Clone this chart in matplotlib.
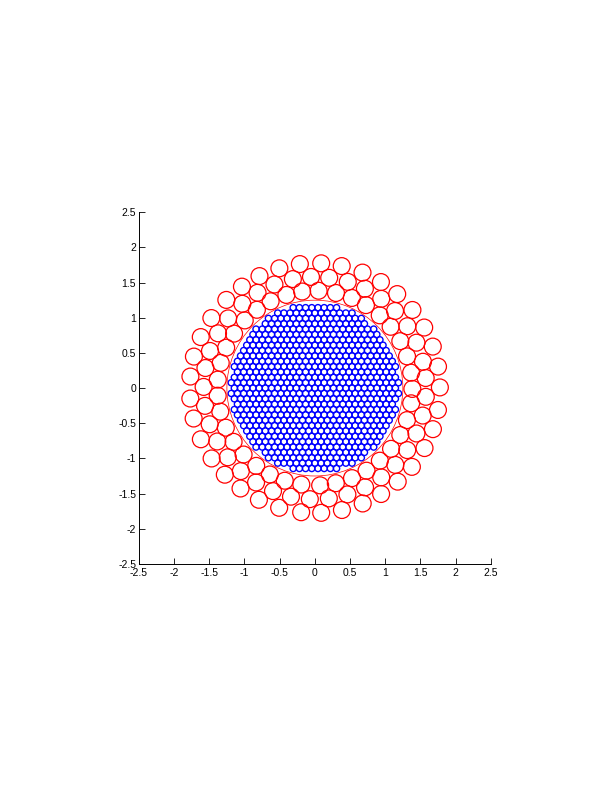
import numpy as np
import matplotlib
matplotlib.use('Agg')
import matplotlib.pyplot as plt
from matplotlib.patches import Circle
from matplotlib.collections import PatchCollection

plt.rcParams['font.family'] = ['Liberation Sans', 'DejaVu Sans']
plt.rcParams['axes.unicode_minus'] = False

# small blue discs: hexagonal lattice inside the boundary circle
blue_spacing = 0.088
blue_r = 0.044
boundary_r = 1.25

# big red discs: three rings (radius of ring, angles in degrees)
red_r = 0.12
ring_inner_r = 1.385
ring_mid_r = 1.581
ring_outer_r = 1.776
ring_inner_deg = [9.1, 19, 28.8, 39, 48.3, 58.4, 67.7, 77.5, 87.8, 97.5, 107, 117, 126.5,
                  136, 146, 155.5, 165, 175, 184.5, 194, 204, 213.5, 223, 233, 242.5, 252,
                  262, 273.1, 282.4, 292.4, 302, 311.8, 321.4, 331.2, 340.8, 351, 359.5]
ring_mid_deg = [5.2, 13.7, 24.1, 33.8, 43.9, 53.4, 63.3, 72.8, 82.6, 92, 101.4, 111.3, 121,
                130.7, 141.2, 150.5, 160.5, 169.6, 179.4, 189.2, 199, 208.7, 218.5, 228.3,
                238.1, 247.9, 257.6, 267.4, 277.2, 287, 296.8, 306.6, 316.3, 326.1, 335.9,
                345.7, 355.5]
ring_outer_deg = [0.3, 9.9, 19.4, 29, 38.7, 48.8, 58.1, 67.6, 77.6, 87.1, 96.9, 106.5, 116.3,
                  125.7, 135.1, 145.9, 155.9, 165.4, 174.7, 184.8, 194.1, 204.2, 214.3, 223.9,
                  233.5, 243.4, 253.4, 263.7, 272.9, 282.5, 292.5, 302, 311.5, 320.9, 331.3,
                  340.8, 349.9]

ticks = [-2.5, -2, -1.5, -1, -0.5, 0, 0.5, 1, 1.5, 2, 2.5]
tick_labels = ['-2.5', '-2', '-1.5', '-1', '-0.5', '0', '0.5', '1', '1.5', '2', '2.5']

fig = plt.figure(figsize=(6.12, 7.92), dpi=100)
ax = fig.add_axes([0.227, 0.288, 0.575, 0.444])

# blue lattice
blue = []
dy = blue_spacing * np.sqrt(3) / 2
nrow = int(boundary_r / dy) + 1
for j in range(-nrow, nrow + 1):
    y = j * dy
    off = 0.5 * blue_spacing if j % 2 else 0.0
    ncol = int(boundary_r / blue_spacing) + 2
    for i in range(-ncol, ncol + 1):
        x = i * blue_spacing + off
        if np.hypot(x, y) <= boundary_r - blue_r - 0.005:
            blue.append(Circle((x, y), blue_r))
ax.add_collection(PatchCollection(blue, facecolor='none', edgecolor='#0000ff', linewidth=1.0))

red = []
for rr, angs in [(ring_inner_r, ring_inner_deg), (ring_mid_r, ring_mid_deg), (ring_outer_r, ring_outer_deg)]:
    for a in angs:
        t = np.radians(a)
        red.append(Circle((rr * np.cos(t), rr * np.sin(t)), red_r))
ax.add_collection(PatchCollection(red, facecolor='none', edgecolor='#ff0000', linewidth=0.9))

ax.add_patch(Circle((0, 0), boundary_r, facecolor='none', edgecolor='#ff0000', linewidth=0.5))

ax.set_xlim(-2.5, 2.5)
ax.set_ylim(-2.5, 2.5)
ax.set_xticks(ticks)
ax.set_xticklabels(tick_labels)
ax.set_yticks(ticks)
ax.set_yticklabels(tick_labels)
ax.tick_params(direction='in', length=4, width=0.6, labelsize=7.5)
ax.tick_params(axis='x', pad=3)
ax.tick_params(axis='y', pad=2)
ax.spines['top'].set_visible(False)
ax.spines['right'].set_visible(False)
for s in ['left', 'bottom']:
    ax.spines[s].set_linewidth(0.7)

plt.savefig('out.png', dpi=100)
